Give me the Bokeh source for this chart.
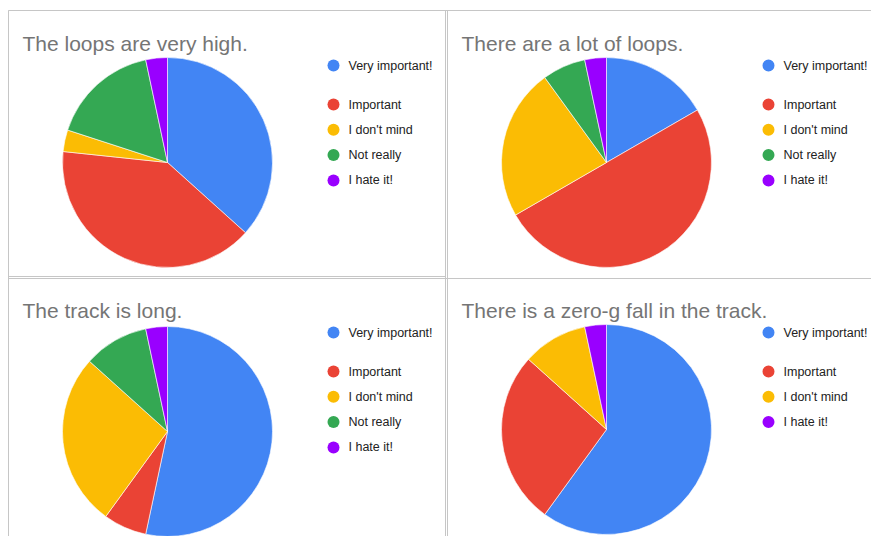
import math
from bokeh.plotting import figure
from bokeh.models import Range1d, ColumnDataSource
from bokeh.core.properties import value
from bokeh.embed import file_html
from bokeh.resources import INLINE

# ---- data ----
categories = ["Very important!", "Important", "I don't mind", "Not really", "I hate it!"]
colors = ["#4285F4", "#EA4335", "#FBBC04", "#34A853", "#9900FF"]
titles = [
    "The loops are very high.",
    "There are a lot of loops.",
    "The track is long.",
    "There is a zero-g fall in the track.",
]
loops_high = [11, 12, 1, 5, 1]
many_loops = [5, 15, 7, 2, 1]
track_long = [16, 2, 8, 3, 1]
zero_g_fall = [18, 8, 3, 0, 1]
series = [loops_high, many_loops, track_long, zero_g_fall]

# ---- layout ----
W, H = 871, 536
def Y(pix):
    return H - pix

# panel origins (left, top) in pixels
origins = [(8, 10), (447, 10), (8, 277), (447, 277)]
centers = [(167, 162), (606, 162), (167, 431), (606, 429)]
legend_x = [333, 768, 333, 768]
RADIUS = 105

p = figure(width=W, height=H, output_backend="svg", toolbar_location=None,
           x_range=Range1d(0, W), y_range=Range1d(0, H), min_border=0)
p.axis.visible = False
p.grid.visible = False
p.outline_line_color = None
p.background_fill_color = "white"
p.border_fill_color = "white"

# panel borders
border = "#c6c6c6"
p.segment(x0=[8, 8, 8, 445, 447, 8, 8], y0=[Y(10), Y(10), Y(276), Y(10), Y(10), Y(278), Y(10)],
          x1=[W, 8, 445, 445, 447, W, 8], y1=[Y(10), Y(H), Y(276), Y(H), Y(H), Y(278), Y(H)],
          line_color=border, line_width=1)

for k, vals in enumerate(series):
    ox, oy = origins[k]
    cx, cy = centers[k]
    total = float(sum(vals))
    xs, ys, st, en, cols = [], [], [], [], []
    cum = 0.0
    for v, c in zip(vals, colors):
        if v <= 0:
            continue
        a0 = math.pi / 2 - 2 * math.pi * cum / total
        cum += v
        a1 = math.pi / 2 - 2 * math.pi * cum / total
        xs.append(cx); ys.append(Y(cy)); st.append(a0); en.append(a1); cols.append(c)
    src = ColumnDataSource(dict(x=xs, y=ys, s=st, e=en, c=cols))
    p.wedge(x="x", y="y", radius=RADIUS, start_angle="s", end_angle="e",
            direction="clock", fill_color="c", line_color="white", line_width=0.6,
            source=src)

    # title
    p.text(x=[ox + 14], y=[Y(oy + 33)], text=[titles[k]],
           text_font=value("Liberation Sans"), text_font_size="21px",
           text_color="#757575", text_baseline="alphabetic", text_align="left")

    # legend
    lx = legend_x[k]
    ly0 = oy + 55
    lx_items, ly_items, lt, lc = [], [], [], []
    idx = 0
    for name, v, c in zip(categories, vals, colors):
        if v <= 0:
            continue
        yy = ly0 if idx == 0 else ly0 + 39 + 25.3 * (idx - 1)
        lx_items.append(lx); ly_items.append(Y(yy)); lt.append(name); lc.append(c)
        idx += 1
    p.scatter(x=lx_items, y=ly_items, size=12, marker="circle", fill_color=lc, line_color=None)
    p.text(x=[lx + 15] * len(lt), y=ly_items, text=lt,
           text_font=value("Liberation Sans"), text_font_size="12.5px",
           text_color="#222222", text_baseline="middle", text_align="left")

open("out.html", "w").write(file_html(p, INLINE))
